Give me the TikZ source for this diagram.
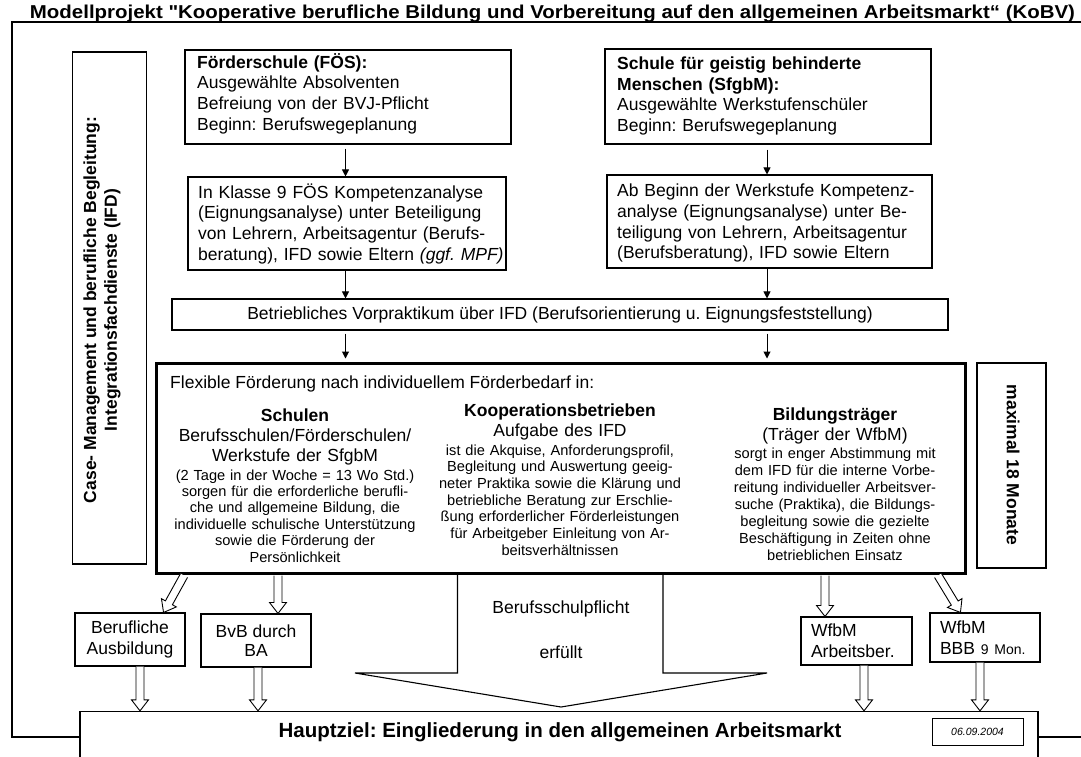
\documentclass[tikz,border=0pt]{standalone}
\usepackage{fontspec}
\setmainfont{Liberation Sans}
\usepackage{graphicx}
\usetikzlibrary{calc,arrows.meta}
\newcommand\fsn{\fontsize{17.5}{20.7}\selectfont}
\newcommand\fss{\fontsize{14.6}{16.8}\selectfont}
\newcommand\straightquote{\XeTeXglyph\XeTeXcharglyph"22\relax}
\newcommand\hollowarrow[2]{%
  \draw[hollow] let \p1=(#1), \p2=(#2),
    \n1={atan2(\y2-\y1,\x2-\x1)}, \n2={veclen(\x2-\x1,\y2-\y1)} in
    ($(\p1)+(\n1+90:4pt)$)
    -- ($(\p1)+(\n1:{\n2-11pt})+(\n1+90:4pt)$)
    -- ($(\p1)+(\n1:{\n2-11pt})+(\n1+90:8.5pt)$)
    -- (\p2)
    -- ($(\p1)+(\n1:{\n2-11pt})+(\n1-90:8.5pt)$)
    -- ($(\p1)+(\n1:{\n2-11pt})+(\n1-90:4pt)$)
    -- ($(\p1)+(\n1-90:4pt)$);}
\tikzset{
  box/.style={draw, line width=1.1pt, fill=white, inner sep=0pt},
  txt/.style={inner sep=0pt, font=\fsn},
  arr/.style={line width=1pt, -{Triangle[length=7pt,width=7pt]}},
  hollow/.style={draw, line width=0.9pt, fill=white, line join=miter},
  frame/.style={line width=1.3pt},
}
\begin{document}
\frenchspacing
\begin{tikzpicture}[x=1pt,y=-1pt]
\useasboundingbox (0,0) rectangle (1081,756);
\clip (0,0) rectangle (1081,756);
\fill[white] (0,0) rectangle (1081,756);

% outer frame
\draw[frame] (1090,737) -- (12,737) -- (12,22) -- (1090,22);

% title
\node[inner sep=0pt, anchor=base, font=\bfseries\fontsize{19}{22}\selectfont] (title) at (552.5,18)
  {\resizebox{1045pt}{13.5pt}{Modellprojekt \straightquote Kooperative berufliche Bildung und Vorbereitung auf den allgemeinen Arbeitsmarkt“ (KoBV)}};

% left vertical box
\node[box, minimum width=74pt, minimum height=512pt] (ifd) at (109.5,308) {};
\node[txt, rotate=90, font=\bfseries\fsn, align=center] (ifdt) at (102,310)
  {Case- Management und berufliche Begleitung:\\Integrationsfachdienste (IFD)};

% top boxes
\node[box, minimum width=326pt, minimum height=94pt] (fos) at (348,97) {};
\node[txt, anchor=base west, text width=310pt, align=left] (fost) at (197,68)
  {\textbf{Förderschule (FÖS):}\\Ausgewählte Absolventen\\Befreiung von der BVJ-Pflicht\\Beginn: Berufswegeplanung};
\node[box, minimum width=318pt, minimum height=93pt] (kb1) at (347,223.5) {};
\node[txt, anchor=base west, text width=340pt, align=left] (kb1t) at (198,198)
  {In Klasse 9 FÖS Kompetenzanalyse\\(Eignungsanalyse) unter Beteiligung\\von Lehrern, Arbeitsagentur (Berufs-\\beratung), IFD sowie Eltern \textit{(ggf. MPF)}};

\node[box, minimum width=326pt, minimum height=95pt] (sfg) at (768,96.5) {};
\node[txt, anchor=base west, text width=310pt, align=left] (sfgt) at (617,69.3)
  {\textbf{Schule für geistig behinderte}\\\textbf{Menschen (SfgbM):}\\Ausgewählte Werkstufenschüler\\Beginn: Berufswegeplanung};
\node[box, minimum width=325pt, minimum height=93pt] (kb2) at (769.5,221.5) {};
\node[txt, anchor=base west, text width=310pt, align=left] (kb2t) at (617,196.7)
  {Ab Beginn der Werkstufe Kompetenz-\\analyse (Eignungsanalyse) unter Be-\\teiligung von Lehrern, Arbeitsagentur\\(Berufsberatung), IFD sowie Eltern};

% Vorpraktikum
\node[box, minimum width=776pt, minimum height=31pt, font=\fsn] (vor) at (560,314.5)
  {Betriebliches Vorpraktikum über IFD (Berufsorientierung u. Eignungsfeststellung)};

% flexible box
\node[box, line width=3pt, minimum width=809pt, minimum height=210pt] (flex) at (560.5,468) {};
\node[txt, anchor=base west] (flexhead) at (170,388) {Flexible Förderung nach individuellem Förderbedarf in:};

\node[txt, anchor=base, text width=262pt, align=center, font=\fontsize{17.5}{20}\selectfont] (c1h) at (295,421)
  {\textbf{Schulen}\\Berufsschulen/Förderschulen/\\Werkstufe der SfgbM};
\node[txt, anchor=base, text width=262pt, align=center, font=\fontsize{14.6}{16.4}\selectfont] (c1b) at (295,480)
  {(2 Tage in der Woche = 13 Wo Std.)\\sorgen für die erforderliche berufli-\\che und allgemeine Bildung, die\\individuelle schulische Unterstützung\\sowie die Förderung der\\Persönlichkeit};

\node[txt, anchor=base, text width=262pt, align=center, font=\fontsize{17.5}{20}\selectfont] (c2h) at (560,416.7)
  {\textbf{Kooperationsbetrieben}\\Aufgabe des IFD};
\node[txt, anchor=base, text width=262pt, align=center, font=\fontsize{14.6}{16.7}\selectfont] (c2b) at (560,455)
  {ist die Akquise, Anforderungsprofil,\\Begleitung und Auswertung geeig-\\neter Praktika sowie die Klärung und\\betriebliche Beratung zur Erschlie-\\ßung erforderlicher Förderleistungen\\für Arbeitgeber Einleitung von Ar-\\beitsverhältnissen};

\node[txt, anchor=base, text width=262pt, align=center, font=\fontsize{17.5}{19.5}\selectfont] (c3h) at (835,420.7)
  {\textbf{Bildungsträger}\\(Träger der WfbM)};
\node[txt, anchor=base, text width=262pt, align=center, font=\fontsize{14.6}{17}\selectfont] (c3b) at (835,458)
  {sorgt in enger Abstimmung mit\\dem IFD für die interne Vorbe-\\reitung individueller Arbeitsver-\\suche (Praktika), die Bildungs-\\begleitung sowie die gezielte\\Beschäftigung in Zeiten ohne\\betrieblichen Einsatz};

% right vertical box
\node[box, minimum width=69pt, minimum height=205pt] (max) at (1011.5,465.5) {};
\node[txt, rotate=-90, font=\bfseries\fsn] (maxt) at (1013,465) {maximal 18 Monate};

% thin arrows
\coordinate (ax1) at (345.5,0);
\coordinate (ax2) at (767,0);
\draw[arr, shorten <=4pt] (fos.south -| ax1) -- (kb1.north -| ax1);
\draw[arr, shorten <=5pt] (sfg.south -| ax2) -- (kb2.north -| ax2);
\draw[arr] (kb1.south -| ax1) -- (vor.north -| ax1);
\draw[arr] (kb2.south -| ax2) -- (vor.north -| ax2);
\draw[arr, shorten <=3pt, shorten >=3pt] (vor.south -| ax1) -- (flex.north -| ax1);
\draw[arr, shorten <=3pt, shorten >=3pt] (vor.south -| ax2) -- (flex.north -| ax2);

% bottom boxes
\node[box, minimum width=110pt, minimum height=53pt, align=center, font=\fontsize{17.5}{21}\selectfont] (beruf) at (130,639.5) {Berufliche\\Ausbildung};
\node[box, minimum width=110pt, minimum height=53pt, align=center, font=\fontsize{17.5}{19}\selectfont] (bvb) at (256,640.5) {BvB durch\\BA};
\node[box, minimum width=111pt, minimum height=48pt, inner xsep=10pt, text width=91pt, align=left, font=\fontsize{17.5}{21}\selectfont] (wfa) at (856.5,641) {WfbM\\Arbeitsber.};
\node[box, minimum width=110pt, minimum height=49pt, inner xsep=10pt, text width=90pt, align=left, font=\fontsize{17.5}{21}\selectfont] (wfb) at (985,637.5) {WfbM\\BBB {\fontsize{14}{16}\selectfont 9 Mon.}};

% Berufsschulpflicht block arrow
\draw[line width=1.1pt, line join=miter] (457.5,574.5) -- (457.5,673) -- (355,673) -- (561,707) -- (767,673) -- (663,673) -- (663,574.5);
\node[txt, anchor=base] (bspt) at (561,613) {Berufsschulpflicht};
\node[txt, anchor=base] (bspe) at (561,658) {erfüllt};

% main goal
\node[box, line width=1.3pt, minimum width=958pt, minimum height=60pt] (haupt) at (559,741.5) {};
\node[inner sep=0pt, anchor=base, font=\bfseries\fontsize{20.5}{24}\selectfont] (hzt) at (560,737)
  {Hauptziel: Eingliederung in den allgemeinen Arbeitsmarkt};
\node[box, line width=0.8pt, minimum width=91pt, minimum height=27pt, font=\itshape\fontsize{10.5}{12}\selectfont] (date) at (977.5,731.5) {06.09.2004};

% hollow arrows
\coordinate (h1s) at (184,575.5);
\coordinate (h2s) at (278,575.5);
\coordinate (h3s) at (825,575.5);
\coordinate (h4s) at (938,575.5);
\coordinate (h5s) at (140,0);
\coordinate (h6s) at (258,0);
\coordinate (h7s) at (864,0);
\coordinate (h8s) at (980,0);
\hollowarrow{h1s}{$(beruf.north east)+(-22,0)$}
\hollowarrow{h2s}{h2s |- bvb.north}
\hollowarrow{h3s}{h3s |- wfa.north}
\hollowarrow{h4s}{$(wfb.north west)+(31,0)$}
\hollowarrow{beruf.south -| h5s}{haupt.north -| h5s}
\hollowarrow{bvb.south -| h6s}{haupt.north -| h6s}
\hollowarrow{wfa.south -| h7s}{haupt.north -| h7s}
\hollowarrow{wfb.south -| h8s}{haupt.north -| h8s}
\end{tikzpicture}
\end{document}
